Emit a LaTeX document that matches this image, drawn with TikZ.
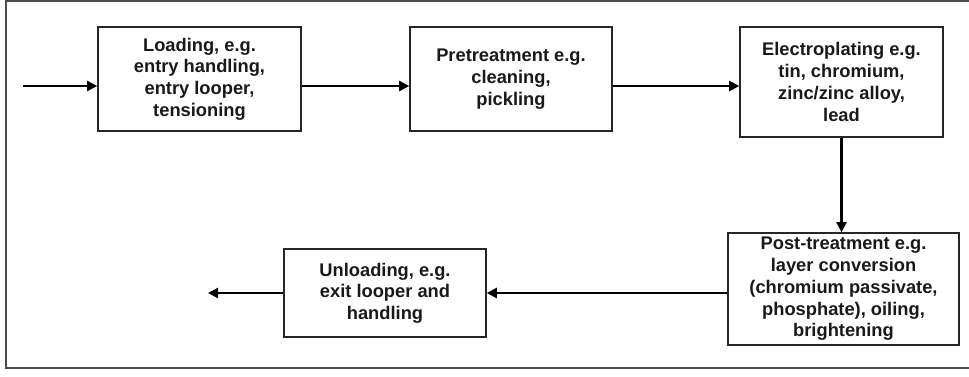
\documentclass[tikz,border=0pt]{standalone}
\usepackage{fontspec}
\setmainfont{Liberation Sans}
\usetikzlibrary{arrows.meta}
\begin{document}
\begin{tikzpicture}[x=1pt,y=-1pt,
  box/.style={draw=black!85, line width=1.6pt, align=center, inner sep=0pt,
    font=\fontsize{18.3pt}{21.7pt}\selectfont\bfseries, text=black!90},
  flow/.style={line width=2.2pt, -{Triangle[length=10pt,width=10pt]}},
  frameline/.style={draw=black!70, line width=2pt}]
\useasboundingbox (0,0) rectangle (969,376);
\draw[frameline] (969,0.5) -- (6,0.5) -- (6,368) -- (969,368);

\node[box, minimum width=203pt, minimum height=104pt] (b1) at (199.5,79)
  {Loading, e.g.\\entry handling,\\entry looper,\\tensioning};
\node[box, minimum width=202pt, minimum height=104pt] (b2) at (511,79)
  {Pretreatment e.g.\\cleaning,\\pickling};
\node[box, minimum width=203pt, minimum height=110pt] (b3) at (841.5,82)
  {Electroplating e.g.\\tin, chromium,\\zinc/zinc alloy,\\lead};
\node[box, minimum width=231pt, minimum height=112pt] (b4) at (843.5,289)
  {Post-treatment e.g.\\layer conversion\\(chromium passivate,\\phosphate), oiling,\\brightening};
\node[box, minimum width=202pt, minimum height=88pt] (b5) at (385,293)
  {Unloading, e.g.\\exit looper and\\handling};

\coordinate (in) at (23,86);
\coordinate (out) at (208,293);
\draw[flow] (in) -- (b1.west |- in);
\draw[flow] (b1.east |- in) -- (b2.west |- in);
\draw[flow] (b2.east |- in) -- (b3.west |- in);
\draw[flow] (b3.south) -- (b3.south |- b4.north);
\draw[flow] (b4.west |- b5.east) -- (b5.east);
\draw[flow] (b5.west) -- (out);
\end{tikzpicture}
\end{document}
